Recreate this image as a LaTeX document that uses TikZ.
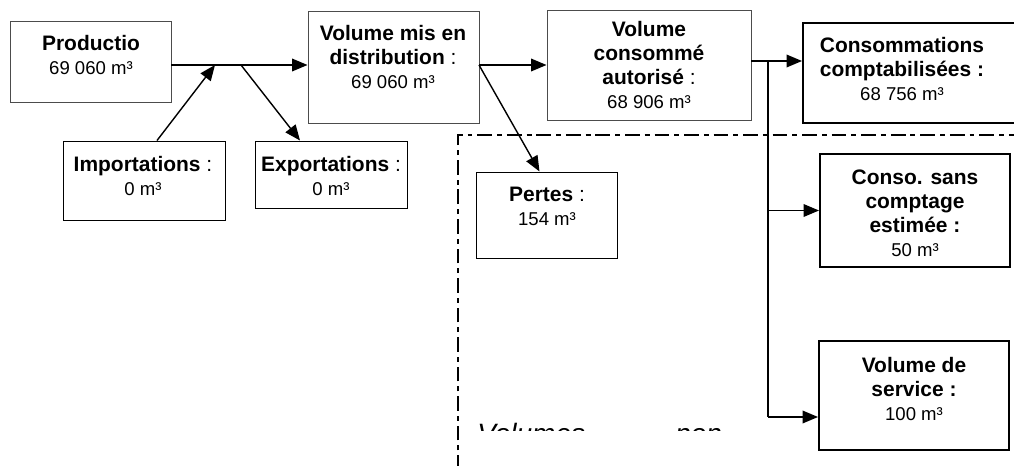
\documentclass[tikz,border=0pt]{standalone}
\usepackage{fontspec}
\setmainfont{Liberation Sans}
\usetikzlibrary{arrows.meta,positioning,calc,fit}

\tikzset{
  box/.style={draw, line width=0.7pt, inner sep=0pt},
  boxthick/.style={box, line width=1.4pt},
  lbl/.style={anchor=north, align=center, inner sep=0pt, font=\fontsize{14.9}{17}\selectfont\bfseries},
  flow/.style={line width=1pt, -{Triangle[length=11pt,width=9pt]}},
  link/.style={line width=1pt},
  zone/.style={line width=1.4pt, dash pattern=on 10.5pt off 3.5pt on 3.5pt off 3.5pt},
  bigitalic/.style={anchor=base west, inner sep=0pt, font=\fontsize{19.9}{24}\selectfont\itshape}
}
\newcommand{\amount}[1]{{\fontsize{13.2}{17}\selectfont\mdseries #1}}

\begin{document}
\begin{tikzpicture}[x=0.025cm, y=-0.025cm]
\clip (0,0) rectangle (1014,466);

% zone of the volumes not counted
\draw[zone] (458,470) -- (458,135) -- (1020,135);

% boxes
\node[box, draw=black!70, fit={(10,21) (171,102)}] (prod) {};
\node[box, fit={(63,141) (225,220)}] (imp) {};
\node[box, fit={(255,141) (407,208)}] (exp) {};
\node[box, draw=black!70, fit={(308,11) (479,123)}] (dist) {};
\node[box, draw=black!70, fit={(547,10) (751,120)}] (auto) {};
\node[boxthick, fit={(803,23) (1030,123)}] (compt) {};
\node[box, fit={(476,172) (617,258)}] (pertes) {};
\node[boxthick, fit={(820,154) (1010,267)}] (sans) {};
\node[boxthick, fit={(819,341) (1009,450)}] (serv) {};

% texts (top of first line)
\node[lbl] (prodtxt) at (91,35) {Productio\\ \amount{69 060 m³}};
\node[lbl] (imptxt) at (143,156) {Importations {\mdseries :}\\ \amount{0 m³}};
\node[lbl] (exptxt) at (331,156) {Exportations {\mdseries :}\\ \amount{0 m³}};
\node[lbl] (disttxt) at (393,25) {Volume mis en\\ distribution {\mdseries :}\\ \amount{69 060 m³}};
\node[lbl] (autotxt) at (649,21) {Volume\\ consommé\\ autorisé {\mdseries :}\\ \amount{68 906 m³}};
\node[lbl] (compttxt) at (902,37) {Consommations\\ comptabilisées :\\ \amount{68 756 m³}};
\node[lbl] (pertestxt) at (547,187) {Pertes {\mdseries :}\\ \amount{154 m³}};
\node[lbl] (sanstxt) at (915,170) {Conso. sans\\ comptage\\ estimée :\\ \amount{50 m³}};
\node[lbl] (servtxt) at (914,357) {Volume de\\ service :\\ \amount{100 m³}};

\begin{scope}
  \clip (460,400) rectangle (1014,430);
  \node[bigitalic] (volword) at (477,443) {Volumes};
  \node[bigitalic] (nonword) at (675,443) {non};
\end{scope}

% connectors
\coordinate (jin) at (215,65);
\coordinate (jout) at (241,65);
\draw[flow] (prod.east |- jin) -- (jin -| dist.west);
\draw[flow] ($(imp.north)+(13,0)$) -- (jin);
\draw[flow] (jout) -- ($(exp.north)+(-31,0)$);

\coordinate (jdist) at (479,65);
\draw[flow] (jdist) -- (jdist -| auto.west);
\draw[flow] (jdist) -- ($(pertes.north)+(-7,0)$);

\coordinate (jauto) at (768,61);
\coordinate (jserv) at (768,417);
\draw[flow] (auto.east |- jauto) -- (jauto -| compt.west);
\draw[link] (jauto) -- (jserv);
\draw[flow] (jserv) -- (jserv -| serv.west);
\draw[flow] (jauto |- sans.west) -- (sans.west);
\end{tikzpicture}
\end{document}
